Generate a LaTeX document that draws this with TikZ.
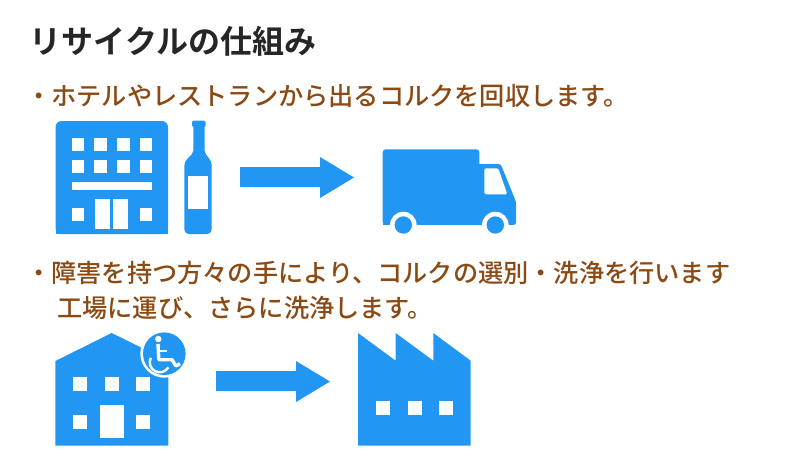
\documentclass[tikz,border=0pt]{standalone}
\usepackage{fontspec}
\newfontfamily\cjk{Noto Sans CJK JP Medium}
\newfontfamily\cjkb{Noto Sans CJK JP Bold}
\definecolor{iconblue}{HTML}{2196F3}
\definecolor{bodybrown}{HTML}{8B4A14}
\definecolor{titleink}{HTML}{262626}
\tikzset{
  icon/.style={fill=iconblue,draw=none},
  hole/.style={fill=white,draw=none},
  titletext/.style={anchor=base west,inner sep=0pt,text=titleink,font=\cjkb\fontsize{32}{32}\selectfont},
  bodytext/.style={anchor=base west,inner sep=0pt,text=bodybrown,font=\cjk\fontsize{25.2}{25.2}\selectfont},
  chairline/.style={draw=white,line width=3.4pt,line join=round}
}
\newcommand{\sq}[3]{\fill[hole] (#1,#2) rectangle ++(#3,#3);}
\begin{document}
\begin{tikzpicture}[x=1pt,y=-1pt]
\useasboundingbox (0,0) rectangle (799,456);
% texts
\node[titletext] (title) at (29.5,53) {リサイクルの仕組み};
\node[bodytext] (l1) at (26,105) {・ホテルやレストランから出るコルクを回収します。};
\node[bodytext] (l2) at (26,282) {・障害を持つ方々の手により、コルクの選別・洗浄を行います};
\node[bodytext] (l3) at (57,317) {工場に運び、さらに洗浄します。};
% hotel
\fill[icon,rounded corners=6pt] (55.5,234) -- (55.5,121) -- (168,121) -- (168,234) -- cycle;
\fill[icon] (55.5,225) rectangle (168,234);
\foreach \x in {71.7,94.3,117,139.5}{\foreach \y in {138,160}{\sq{\x}{\y}{12.5}}}
\fill[hole] (71.7,182) rectangle (152,190);
\sq{71.7}{208}{12.5}
\sq{139.5}{208}{12.5}
\fill[hole] (95,199) rectangle (110.3,229);
\fill[hole] (113,199) rectangle (128.3,229);
% bottle
\fill[icon,rounded corners=1.5pt] (192,127) -- (192,120.7) -- (205.7,120.7) -- (205.7,127) -- cycle;
\fill[icon] (193.3,125) -- (193.3,151) .. controls (192.5,157) and (184.3,157) .. (184.3,167)
  -- (184.3,228) .. controls (184.3,232) and (186,234) .. (190,234) -- (206,234)
  .. controls (210,234) and (211.7,232) .. (211.7,228) -- (211.7,167)
  .. controls (211.7,157) and (205.5,157) .. (204.7,151) -- (204.7,125) -- cycle;
\fill[hole] (188,175.7) rectangle (208.3,209.3);
% arrow 1
\fill[icon] (240,167) -- (320,167) -- (320,157) -- (354,177.5) -- (320,198) -- (320,187) -- (240,187) -- cycle;
% truck
\fill[icon,rounded corners=3pt] (382.7,225) -- (382.7,149.3) -- (479.3,149.3) -- (479.3,225) -- cycle;
\fill[icon] (382.7,200) rectangle (479.3,225);
\fill[icon,rounded corners=2.5pt] (470,164) -- (500.7,164) -- (516,201.7) -- (516,225) -- (470,225) -- cycle;
\fill[hole,rounded corners=1.5pt] (484.3,168.3) -- (498.3,168.3) -- (507.3,194.3) -- (484.3,194.3) -- cycle;
\fill[hole] (403.3,225) circle (13.3);
\fill[hole] (495.3,225) circle (13.3);
\fill[hole] (375,225) rectangle (525,240);
\fill[icon] (403.3,225) circle (8.7);
\fill[icon] (495.3,225) circle (8.7);
% care home
\fill[icon] (55.3,361) -- (111.7,333) -- (168.3,361) -- (168.3,445.7) -- (55.3,445.7) -- cycle;
\foreach \x in {73.3,105,136.3}{\sq{\x}{377.3}{13.8}}
\sq{73.3}{415}{13.8}
\sq{136.3}{415}{13.8}
\fill[hole] (100,405) rectangle (123.7,438.3);
% badge
\fill[hole] (164.3,353.7) circle (24);
\fill[icon] (164.3,353.7) circle (21.3);
\fill[white] (158.3,339) circle (3.2);
\draw[chairline] (158,344) -- (158.8,359.7) -- (172,359.7) -- (176,366) -- (180,363.6);
\draw[chairline,line width=2.6pt] (158.5,351) -- (167,351);
\draw[chairline,line width=2.4pt] (159.7,362.3) ++(207:10) arc[start angle=207,end angle=30,radius=10];
% arrow 2
\fill[icon] (216,371) -- (296,371) -- (296,361) -- (330,381.5) -- (296,402) -- (296,391) -- (216,391) -- cycle;
% factory
\fill[icon] (358,333) -- (395.7,360.7) -- (395.7,333) -- (433.3,360.7) -- (433.3,333) -- (470.7,360.7) -- (470.7,445.7) -- (358,445.7) -- cycle;
\foreach \x in {376,407.7,439}{\sq{\x}{401}{14}}
\end{tikzpicture}
\end{document}
